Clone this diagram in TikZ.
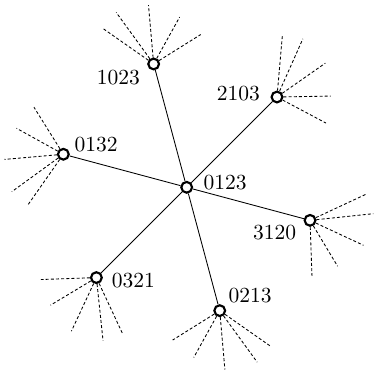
\documentclass[tikz,border=0pt]{standalone}
\usetikzlibrary{positioning}

\begin{document}
\begin{tikzpicture}[
    vtx/.style={circle, draw, line width=1pt, fill=white, inner sep=0pt, minimum size=5pt},
    lab/.style={inner sep=0pt, outer sep=0pt},
    edge/.style={draw, line width=0.4pt},
    ray/.style={draw, line width=0.4pt, dash pattern=on 1.4pt off 1pt},
]
\useasboundingbox (-3.05,-2.97) rectangle (3.06,3.06);
% centre and its six neighbours
\node[vtx] (v0123) at (0,0) {};
\node[vtx] (v1023) at (105:2.086) {};
\node[vtx] (v2103) at (45:2.086) {};
\node[vtx] (v0132) at (165:2.086) {};
\node[vtx] (v3120) at (-15:2.086) {};
\node[vtx] (v0321) at (225:2.086) {};
\node[vtx] (v0213) at (285:2.086) {};
\node[lab, right=4.9pt of v0123, yshift=2.2pt] (l0123) {0123};
\node[lab, left=3.4pt of v1023, yshift=-6.5pt] (l1023) {1023};
\node[lab, left=4.9pt of v2103, yshift=1.6pt] (l2103) {2103};
\node[lab, right=2.2pt of v0132, yshift=4.5pt] (l0132) {0132};
\node[lab, left=3.4pt of v3120, yshift=-5.7pt] (l3120) {3120};
\node[lab, right=4.2pt of v0321, yshift=-1.2pt] (l0321) {0321};
\node[lab, right=1.1pt of v0213, yshift=7pt] (l0213) {0213};
\draw[edge] (v1023) -- (v0123);
\draw[edge] (v0123) -- (v0213);
\draw[edge] (v2103) -- (v0123);
\draw[edge] (v0123) -- (v0321);
\draw[edge] (v0132) -- (v0123);
\draw[edge] (v0123) -- (v3120);
% dashed fans
\foreach \v/\a in {v1023/105, v2103/45, v0132/195, v3120/-15, v0321/255, v0213/285}
  \foreach \r/\l [count=\i] in {40/1.03, 21/1.04, -10/0.965, -44/0.875, -73/0.907} {
    \path (\v) ++(\a+\r:\l) coordinate (\v-\i);
    \draw[ray] (\v) -- (\v-\i);
  }
\end{tikzpicture}
\end{document}
